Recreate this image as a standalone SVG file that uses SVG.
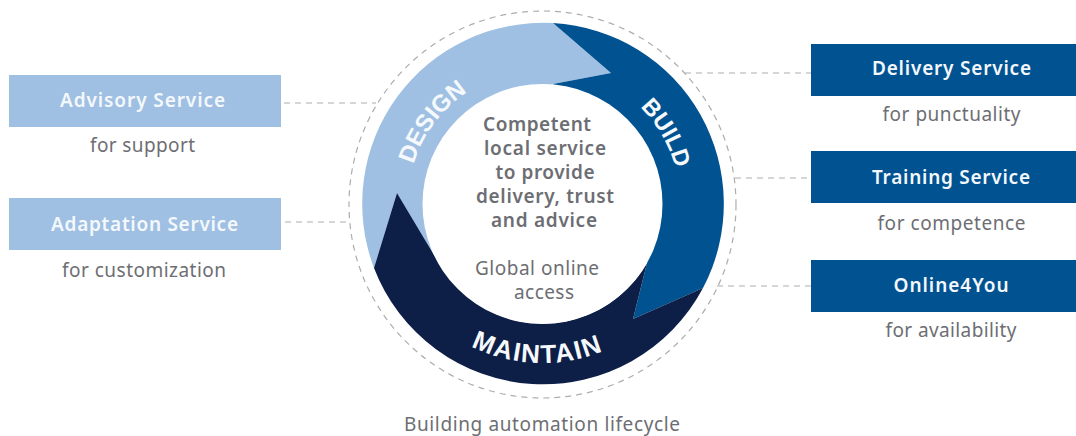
<svg xmlns="http://www.w3.org/2000/svg" width="1076" height="436" viewBox="0 0 1076 436">
<style>
.conn{fill:none;stroke:#adadad;stroke-width:1.2;stroke-dasharray:6 5}
.lt{fill:#9fc0e3}.bl{fill:#005291}.nv{fill:#0d1f47}
text{font-family:"Noto Sans","Open Sans",sans-serif;text-anchor:middle}
.h{font-size:19px;font-weight:600;fill:#f4f8fc}
.s{font-size:19px;fill:#6d6e73}
.c{font-size:19px;font-weight:600;fill:#6d6e73}
.w{font-family:"Liberation Sans",Arial,sans-serif;font-weight:700;font-size:26px;fill:#f6f9fc}
</style>
<defs>
<path id="pd" d="M408 215.700A135 135 0 0 1 507.600 73.600"/>
<path id="pb" d="M594 76.500A138 138 0 0 1 678 231"/>
<path id="pm" d="M420.700 306.200A159 159 0 0 0 656.900 314.500"/>
</defs>
<g id="connectors">
<circle class="conn" cx="542.500" cy="204.500" r="193.500"/>
<path class="conn" d="M284 103H376M285 222H349M685 73H811M735 178H811M717 286H811"/>
</g>
<g id="lifecycle">
<path id="design-arc" class="lt" d="M553 23A181 181 0 0 0 374 268L397 193L437 260L553 84L611 73Z"/>
<path id="build-arc" class="bl" d="M553 23A181 181 0 0 1 703 288L633 319L647 263L553 84L611 73Z"/>
<path id="maintain-arc" class="nv" d="M703 288A181 181 0 0 1 374 268L397 193L437 260A120 120 0 0 0 647 263L633 319Z"/>
<circle cx="542.500" cy="204" r="120" fill="#fff"/>
<text class="w" style="font-size:24px"><textPath href="#pd" startOffset="52%">DESIGN</textPath></text>
<text class="w" style="font-size:23.500px"><textPath href="#pb" startOffset="48%">BUILD</textPath></text>
<text class="w" letter-spacing="1.500"><textPath href="#pm" startOffset="50%">MAINTAIN</textPath></text>
</g>
<g id="center">
<text class="c" x="537" y="131" textLength="108">Competent</text>
<text class="c" x="545" y="155" textLength="122">local service</text>
<text class="c" x="545" y="179" textLength="99">to provide</text>
<text class="c" x="545" y="203" textLength="138">delivery, trust</text>
<text class="c" x="544" y="227" textLength="106">and advice</text>
<text class="s" x="537" y="275" textLength="124">Global online</text>
<text class="s" x="544" y="299" textLength="60">access</text>
</g>
<g id="advisory"><rect class="lt" x="9" y="75" width="272" height="52"/><text class="h" x="142.500" y="107" textLength="165">Advisory Service</text><text class="s" x="142.500" y="152" textLength="105">for support</text></g>
<g id="adaptation"><rect class="lt" x="9" y="198" width="272" height="52"/><text class="h" x="144.500" y="231" textLength="187">Adaptation Service</text><text class="s" x="144" y="277" textLength="164">for customization</text></g>
<g id="delivery"><rect class="bl" x="811" y="44" width="265" height="52"/><text class="h" x="951.500" y="75" textLength="159">Delivery Service</text><text class="s" x="951.500" y="121" textLength="138">for punctuality</text></g>
<g id="training"><rect class="bl" x="811" y="151" width="265" height="52"/><text class="h" x="951" y="184" textLength="158">Training Service</text><text class="s" x="951.500" y="230" textLength="148">for competence</text></g>
<g id="online"><rect class="bl" x="811" y="260" width="265" height="52"/><text class="h" x="951" y="292" textLength="115">Online4You</text><text class="s" x="951" y="337" textLength="131">for availability</text></g>
<text id="caption" class="s" x="542" y="431" textLength="276">Building automation lifecycle</text>
</svg>
